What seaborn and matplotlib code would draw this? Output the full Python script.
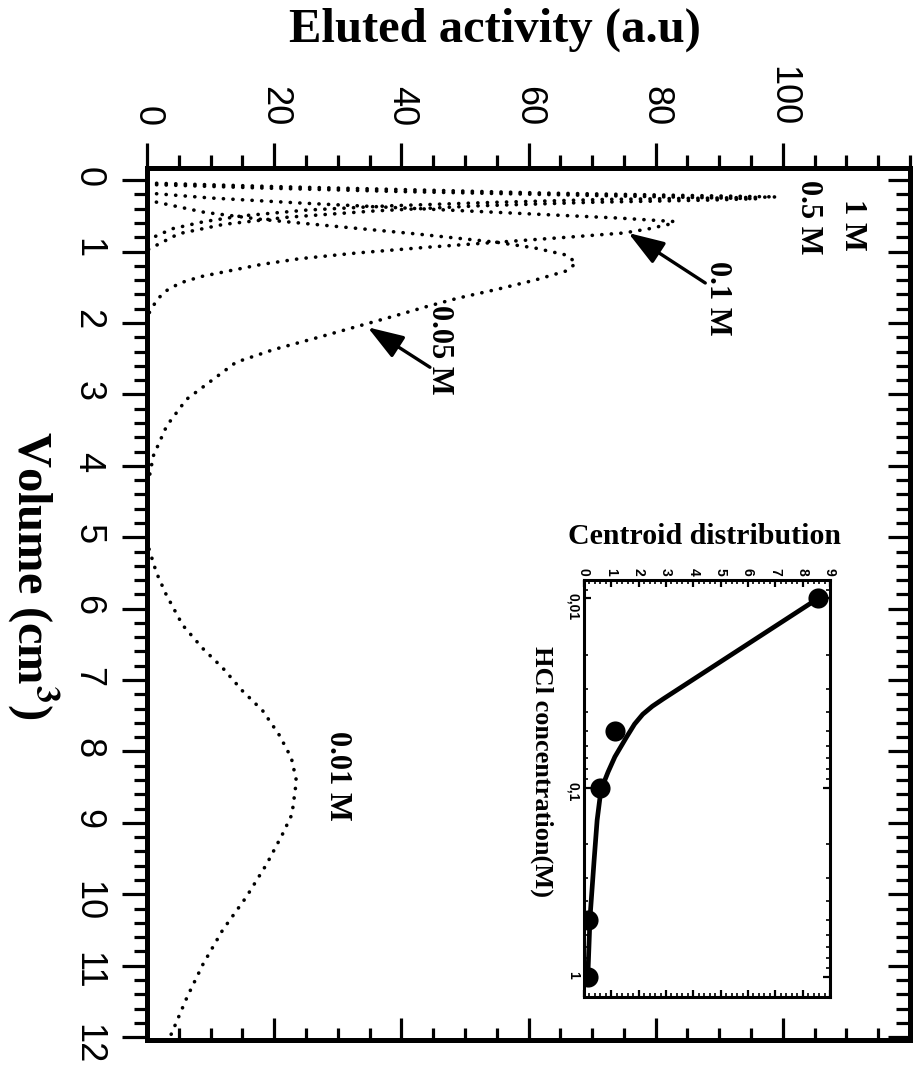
import numpy as np
import pandas as pd
import matplotlib
matplotlib.use("Agg")
import matplotlib.pyplot as plt
from matplotlib.ticker import MultipleLocator, FixedLocator, LogLocator, NullFormatter, FixedFormatter
import seaborn as sns

# ---------------- elution profiles (volume in cm3, activity in a.u.) ----------------
vol_1M = [0.04, 0.09, 0.14, 0.18, 0.21, 0.235, 0.25, 0.27, 0.31, 0.36, 0.42, 0.50, 0.58, 0.68, 0.84]
act_1M = [0, 20, 44, 62, 82, 99, 90, 72, 55, 38, 25, 15, 9, 4, 0]

vol_05M = [0.06, 0.11, 0.16, 0.20, 0.235, 0.26, 0.28, 0.31, 0.36, 0.43, 0.52, 0.62, 0.75, 0.98]
act_05M = [0, 18, 40, 62, 82, 96, 88, 70, 52, 36, 22, 12, 5, 0]

vol_01M = [0.18, 0.25, 0.32, 0.38, 0.43, 0.48, 0.53, 0.58, 0.62, 0.68, 0.74, 0.80, 0.87, 0.94,
           1.02, 1.10, 1.18, 1.26, 1.35, 1.44, 1.55, 1.67, 1.91]
act_01M = [0, 10, 24, 38, 50, 62, 74, 83, 82, 79, 75, 66, 55, 44,
           33, 24, 18, 13.5, 8.5, 5.2, 3, 1.6, 0]

vol_005M = [0.28, 0.45, 0.55, 0.65, 0.75, 0.87, 0.95, 1.05, 1.16, 1.27, 1.40, 1.53, 1.65, 1.77,
            1.90, 2.05, 2.20, 2.37, 2.55, 2.75, 3.07, 3.44, 3.86, 4.23, 4.60]
act_005M = [0, 9, 18, 30, 42, 55, 61, 66, 67.5, 66, 61, 55, 49, 44,
            39, 33, 27, 20, 14, 11, 6.2, 3.1, 1.0, 0.2, 0]

vol_001M = [4.90, 5.16, 5.50, 5.80, 6.23, 6.56, 6.83, 7.15, 7.43, 7.77, 8.09, 8.41, 8.88, 9.16,
            9.58, 10.04, 10.50, 10.98, 11.44, 11.90, 11.98]
act_001M = [0, 0.3, 1.5, 3.0, 5.6, 8.8, 11.9, 15.0, 18.2, 20.8, 22.7, 23.5, 22.8, 21.3,
            18.8, 15.6, 11.9, 8.8, 6.3, 4.1, 3.7]

# ---------------- centroid of elution vs HCl concentration ----------------
conc_points = [1.0, 0.5, 0.1, 0.05, 0.01]
centroid_points = [0.16, 0.16, 0.59, 1.14, 8.57]

fit_conc = [1.0, 0.487, 0.242, 0.149, 0.103, 0.0828, 0.0688, 0.054, 0.0462, 0.041, 0.0372,
            0.034, 0.01]
fit_centroid = [0.14, 0.22, 0.37, 0.48, 0.62, 0.88, 1.13, 1.56, 1.85, 2.15, 2.5,
                2.9, 8.57]

activity_ticks = [0, 20, 40, 60, 80, 100]
volume_ticks = list(range(0, 13))
centroid_ticks = list(range(0, 10))
conc_ticks = [0.01, 0.1, 1]
conc_tick_labels = ["0,01", "0,1", "1"]

sns.set_theme(style="white", rc={
    "axes.edgecolor": "black",
    "xtick.color": "black",
    "ytick.color": "black",
    "text.color": "black",
    "axes.labelcolor": "black",
})
plt.rcParams["font.family"] = ["Liberation Sans", "DejaVu Sans"]
plt.rcParams["mathtext.fontset"] = "stix"

W, H = 916, 1068
fig = plt.figure(figsize=(W / 100, H / 100), dpi=100)


def fx(px):
    return px / W


def fy(py):
    return 1 - py / H


SERIF = ["Liberation Serif", "DejaVu Serif"]

# ---------------- main panel ----------------
ax = fig.add_axes([fx(147), fy(1040), fx(910) - fx(147), fy(168) - fy(1040)])

profiles = [
    ("1 M", vol_1M, act_1M),
    ("0.5 M", vol_05M, act_05M),
    ("0.1 M", vol_01M, act_01M),
    ("0.05 M", vol_005M, act_005M),
    ("0.01 M", vol_001M, act_001M),
]
for name, vol, act in profiles:
    df = pd.DataFrame({"activity": act, "volume": vol})
    sns.lineplot(data=df, x="activity", y="volume", orient="y", sort=False,
                 estimator=None, color="black", lw=2.6, ax=ax)
    ln = ax.lines[-1]
    ln.set_linestyle((0, (0.05, 2.6)))
    ln.set_dash_capstyle("round")

ax.set_xlim(0, 120)
ax.set_ylim(12.04, -0.17)

ax.xaxis.tick_top()
ax.xaxis.set_major_locator(FixedLocator(activity_ticks))
ax.xaxis.set_minor_locator(MultipleLocator(5))
ax.yaxis.set_major_locator(FixedLocator(volume_ticks))
ax.yaxis.set_minor_locator(MultipleLocator(0.2))
ax.tick_params(axis="both", which="major", direction="out", length=18, width=2.3,
               labelsize=26, pad=12)
ax.tick_params(axis="both", which="minor", direction="out", length=9.5, width=2.3)
ax.tick_params(axis="x", which="both", top=True, bottom=False, labeltop=True,
               labelbottom=False, labelrotation=-90)
ax.tick_params(axis="y", which="both", left=True, right=False, labelrotation=-90)
for s in ax.spines.values():
    s.set_linewidth(3.6)
    s.set_color("black")

# mirrored inward ticks on the opposite sides
sec_b = ax.secondary_xaxis("bottom")
sec_b.xaxis.set_major_locator(FixedLocator(activity_ticks))
sec_b.xaxis.set_minor_locator(MultipleLocator(5))
sec_b.tick_params(which="major", direction="in", length=16, width=2.3, labelbottom=False)
sec_b.tick_params(which="minor", direction="in", length=8.5, width=2.3)
sec_r = ax.secondary_yaxis("right")
sec_r.yaxis.set_major_locator(FixedLocator(volume_ticks))
sec_r.yaxis.set_minor_locator(MultipleLocator(0.2))
sec_r.tick_params(which="major", direction="in", length=16, width=2.3, labelright=False)
sec_r.tick_params(which="minor", direction="in", length=10, width=2.3)
for sec in (sec_b, sec_r):
    for s in sec.spines.values():
        s.set_linewidth(3.6)

ax.set_xlabel("Eluted activity (a.u)", fontfamily=SERIF, fontweight="bold", fontsize=35)
ax.xaxis.set_label_position("top")
ax.xaxis.label.set_va("center")
ax.xaxis.set_label_coords((495 - 147) / 763, (1040 - 30) / 872)

ax.set_ylabel("Volume (cm$^{\\mathbf{3}}$)", fontfamily=SERIF, fontweight="bold",
              fontsize=35, rotation=-90, va="center", ha="center")
ax.yaxis.set_label_coords((33 - 147) / 763, (1040 - 575) / 872)

label_kw = dict(rotation=-90, ha="center", va="center", fontfamily=SERIF,
                fontweight="bold", fontsize=22)
ax.text(111, 0.62, "1 M", **label_kw)
ax.text(104, 0.52, "0.5 M", **label_kw)
ax.text(89.8, 1.65, "0.1 M", **label_kw)
ax.text(46, 2.38, "0.05 M", **label_kw)
ax.text(30, 8.34, "0.01 M", **label_kw)

arrow_kw = dict(arrowstyle="-|>,head_length=1.1,head_width=0.38", lw=2.4, color="black",
                shrinkA=0, shrinkB=0, mutation_scale=20)
ax.annotate("", xy=(75.7, 0.74), xytext=(87.8, 1.44), arrowprops=arrow_kw)
ax.annotate("", xy=(34.7, 2.06), xytext=(44.5, 2.62), arrowprops=arrow_kw)

# ---------------- inset: centroid vs HCl concentration ----------------
axin = fig.add_axes([fx(584), fy(997), fx(830) - fx(584), fy(580) - fy(997)])
axin.set_yscale("log")
sns.lineplot(x=fit_centroid, y=fit_conc, orient="y", sort=False, estimator=None,
             color="black", lw=3.4, ax=axin)
axin.lines[-1].set_solid_joinstyle("round")
sns.scatterplot(x=centroid_points, y=conc_points, s=210, color="black",
                edgecolor="black", linewidth=0, ax=axin, zorder=3)
axin.set_xlim(0, 9)
axin.set_ylim(1.28, 0.008)

axin.xaxis.set_major_locator(FixedLocator(centroid_ticks))
axin.xaxis.set_minor_locator(MultipleLocator(0.2))
axin.yaxis.set_major_locator(FixedLocator(conc_ticks))
axin.yaxis.set_major_formatter(FixedFormatter(conc_tick_labels))
axin.yaxis.set_minor_locator(LogLocator(base=10, subs=np.arange(2, 10)))
axin.yaxis.set_minor_formatter(NullFormatter())
axin.tick_params(axis="both", which="major", direction="in", length=5, width=1.6,
                 labelsize=10, pad=3)
axin.tick_params(axis="both", which="minor", direction="in", length=2.8, width=1.2)
axin.tick_params(axis="x", which="both", top=True, bottom=True, labeltop=True,
                 labelbottom=False, labelrotation=-90)
axin.tick_params(axis="y", which="both", left=True, right=True, labelrotation=-90)
for lab in axin.get_xticklabels() + axin.get_yticklabels():
    lab.set_fontweight("bold")
for s in axin.spines.values():
    s.set_linewidth(2.2)
    s.set_color("black")

axin.set_xlabel("Centroid distribution", fontfamily=SERIF, fontweight="bold", fontsize=21.5)
axin.xaxis.set_label_position("top")
axin.xaxis.label.set_va("center")
axin.xaxis.set_label_coords((704 - 584) / 246, (997 - 536) / 417)
axin.set_ylabel("HCl concentration(M)", fontfamily=SERIF, fontweight="bold", fontsize=19,
                rotation=-90, va="center", ha="center")
axin.yaxis.set_label_coords((542 - 584) / 246, (997 - 772) / 417)

fig.savefig("out.png", dpi=100)
